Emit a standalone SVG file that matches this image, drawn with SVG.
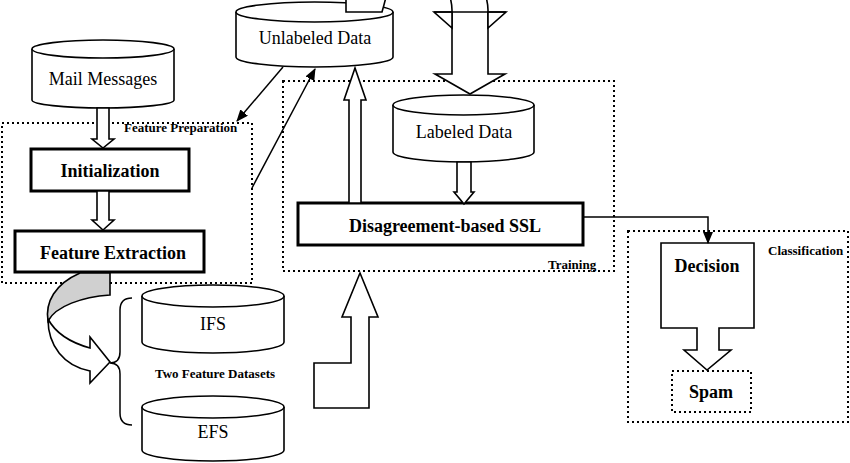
<svg xmlns="http://www.w3.org/2000/svg" width="850" height="463" viewBox="0 0 850 463">
<style>
.cyl{fill:#fff;stroke:#000;stroke-width:1.6}
.box{fill:#fff;stroke:#000;stroke-width:3}
.dot{fill:none;stroke:#000;stroke-width:2;stroke-dasharray:2 3}
.blk{fill:#fff;stroke:#000;stroke-width:1.6;stroke-linejoin:miter}
.ln{fill:none;stroke:#000;stroke-width:1.5}
.t{font-family:"Liberation Serif","Times New Roman",serif;font-size:18px;text-anchor:middle;fill:#000}
.b{font-weight:bold}
.s{font-family:"Liberation Serif","Times New Roman",serif;font-size:13px;font-weight:bold;fill:#000}
</style>
<defs>
<marker id="ah" markerWidth="12" markerHeight="10" refX="11" refY="5" orient="auto" markerUnits="userSpaceOnUse">
<path d="M0,0 L12,5 L0,10 Z" fill="#000"/>
</marker>
</defs>
<rect width="850" height="463" fill="#fff"/>

<!-- group boxes -->
<g id="feature-preparation">
<rect class="dot" x="2" y="123" width="250" height="160"/>
<text class="s" x="124" y="132">Feature Preparation</text>
</g>
<g id="training">
<rect class="dot" x="283" y="81" width="331" height="190"/>
<text class="s" x="548" y="269">Training</text>
</g>
<g id="classification">
<rect class="dot" x="628" y="231" width="220" height="191"/>
<text class="s" x="768" y="255">Classification</text>
</g>

<g id="mail-messages">
<path class="cyl" d="M32,49 V100 A71,8 0 0 0 174,100 V49"/>
<ellipse class="cyl" cx="103" cy="49" rx="71" ry="9"/>
<text class="t" x="103" y="85">Mail Messages</text>
</g>

<g id="unlabeled-data">
<path class="cyl" d="M236,12 V57 A78.5,10 0 0 0 393,57 V12"/>
<ellipse class="cyl" cx="314.5" cy="12" rx="78.5" ry="10"/>
<text class="t" x="315" y="44">Unlabeled Data</text>
</g>

<g id="labeled-data">
<path class="cyl" d="M393,105 V152 A70.5,10 0 0 0 534,152 V105"/>
<ellipse class="cyl" cx="463.5" cy="105" rx="70.5" ry="10"/>
<text class="t" x="464" y="138">Labeled Data</text>
</g>

<g id="initialization">
<rect class="box" x="31" y="149" width="158" height="42"/>
<text class="t b" x="110" y="177">Initialization</text>
</g>

<g id="feature-extraction">
<rect class="box" x="15" y="231" width="189" height="41"/>
<text class="t b" x="113" y="259">Feature Extraction</text>
</g>

<g id="disagreement-ssl">
<rect class="box" x="298" y="203" width="285" height="42"/>
<text class="t b" x="445" y="232">Disagreement-based SSL</text>
</g>

<g id="decision">
<path class="blk" d="M661,243 H754 V328 H719 V350 H731 L707,370 L684,350 H697 V328 H661 Z"/>
<text class="t b" x="707" y="272">Decision</text>
</g>

<g id="spam">
<rect class="dot" x="672" y="371" width="79" height="41" fill="#fff"/>
<text class="t b" x="711" y="398">Spam</text>
</g>

<g id="ifs">
<path class="cyl" d="M142,296 V342 A71,11 0 0 0 284,342 V296"/>
<ellipse class="cyl" cx="213" cy="296" rx="71" ry="11"/>
<text class="t" x="213" y="330">IFS</text>
</g>

<g id="efs">
<path class="cyl" d="M142,407 V450 A71,11 0 0 0 284,450 V407"/>
<ellipse class="cyl" cx="213" cy="407" rx="71" ry="11"/>
<text class="t" x="213" y="438">EFS</text>
</g>

<g id="two-feature-datasets">
<path class="ln" d="M132,298 Q120,298 120,310 V352 Q120,363 110,363 Q120,363 120,374 V413 Q120,425 132,425"/>
<text class="s" x="215" y="378" text-anchor="middle">Two Feature Datasets</text>
</g>

<g id="connectors">
<!-- double-line arrows -->
<path class="blk" d="M97,108 V139 H92 L103,148 L114,139 H109 V108 Z"/>
<path class="blk" d="M97,191 V220 H92 L103,230 L114,220 H109 V191 Z"/>
<path class="blk" d="M457,162 V192 H454 L464,204 L474,192 H471 V162 Z"/>
<path class="blk" d="M349,203 V100 H344 L355,68 L366,100 H361 V203 Z"/>
<!-- thin arrows -->
<line class="ln" x1="283" y1="67" x2="237" y2="121" marker-end="url(#ah)"/>
<line class="ln" x1="252" y1="188" x2="315" y2="69" marker-end="url(#ah)"/>
<path class="ln" d="M583,217 H708 V243" marker-end="url(#ah)"/>
<!-- curved arrow out of Unlabeled Data top -->
<path class="blk" d="M346,-3 V12 H382 Q384,5 386,-3"/>
<!-- big arrow into Labeled Data -->
<path class="blk" d="M450,-3 Q452,4 452,10 V74 H435 L470,94 L505,74 H488 V10 Q488,4 486,-3"/>
<path class="blk" d="M434,12 H452 V28 Z"/>
<path class="blk" d="M506,12 H488 V28 Z"/>
<line class="ln" x1="434" y1="12" x2="506" y2="12"/>
<!-- up block arrow into Training -->
<path class="blk" d="M360,273 L378,317 H369 V408 H314 V363 H351 V317 H342 Z"/>
<!-- curved arrow from Feature Extraction to datasets -->
<path d="M110,273 V295 C82,297 56,306 48,321 C45,302 55,284 80,273 Z" fill="#d0d0d0" stroke="#000" stroke-width="1.6"/>
<path class="blk" d="M48,319 C56,334 72,343 90,348 V337 L110,362 L90,383 V371 C64,366 48,346 48,319 Z"/>
</g>
</svg>
